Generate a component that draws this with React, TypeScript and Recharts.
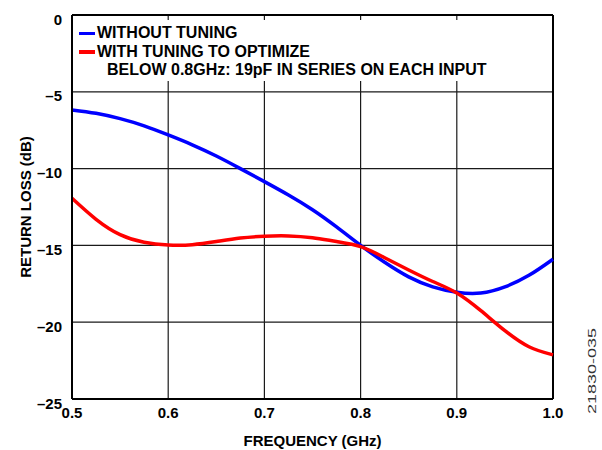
import React from 'react';
import {
  LineChart,
  Line,
  XAxis,
  YAxis,
  CartesianGrid,
  ReferenceLine,
  Legend,
  Label,
} from 'recharts';

// Frequency sample points (GHz)
const freq = [
  0.5, 0.525, 0.55, 0.575, 0.6, 0.625, 0.65, 0.675, 0.7, 0.725, 0.75,
  0.775, 0.8, 0.825, 0.85, 0.875, 0.9, 0.925, 0.95, 0.975, 1.0,
];

// Return loss (dB) without tuning
const withoutTuning = [
  -6.18, -6.4, -6.75, -7.22, -7.81, -8.45, -9.18, -10.0, -10.85, -11.72, -12.68,
  -13.8, -15.0, -16.1, -17.05, -17.7, -18.05, -18.1, -17.7, -16.95, -15.9,
];

// Return loss (dB) with tuning (19pF in series)
const withTuning = [
  -11.93, -13.3, -14.3, -14.8, -14.97, -14.95, -14.75, -14.52, -14.4, -14.38, -14.5,
  -14.75, -15.08, -15.8, -16.6, -17.35, -18.1, -19.25, -20.55, -21.6, -22.13,
];

const xTicks = [0.5, 0.6, 0.7, 0.8, 0.9, 1.0];
const yTicks = [-25, -20, -15, -10, -5, 0];
const legendOrder = ['without', 'with'];

const FONT = '"Liberation Sans", Arial, Helvetica, sans-serif';

const chartData = freq.map((f, i) => ({
  f,
  without: withoutTuning[i],
  with: withTuning[i],
}));

// y tick labels use a long dash for negatives
const YTick = ({ x, y, payload }: any) => {
  const v = payload.value;
  const label = v < 0 ? '\u2013' + Math.abs(v) : String(v);
  return (
    <text
      x={x}
      y={y}
      dy={4}
      textAnchor="end"
      dominantBaseline="central"
      fill="#000"
      fontSize={15}
      fontWeight={700}
      fontFamily={FONT}
    >
      {label}
    </text>
  );
};

const YTitle = () => (
  <text
    x={25}
    y={207}
    transform="rotate(-90, 25, 207)"
    textAnchor="middle"
    dominantBaseline="central"
    fill="#000"
    fontSize={15}
    fontWeight={700}
    fontFamily={FONT}
  >
    RETURN LOSS (dB)
  </text>
);

const ChartLegend = ({ payload }: any) => {
  if (!payload || !payload.length) return null;
  const items = [...payload].sort(
    (a: any, b: any) => legendOrder.indexOf(a.dataKey) - legendOrder.indexOf(b.dataKey)
  );
  const rowStyle: React.CSSProperties = {
    display: 'flex',
    alignItems: 'center',
    height: 18.5,
    lineHeight: '18.5px',
  };
  return (
    <div
      style={{
        background: '#fff',
        height: 61,
        paddingTop: 4,
        boxSizing: 'border-box',
        fontFamily: FONT,
        fontWeight: 700,
        fontSize: 16,
        color: '#000',
        whiteSpace: 'nowrap',
      }}
    >
      {items.map((p: any) => (
        <div key={p.value} style={rowStyle}>
          <div style={{ width: 16, height: 3.5, background: p.color, marginLeft: 4, marginRight: 2 }} />
          <span>{p.value}</span>
        </div>
      ))}
      <div style={{ ...rowStyle, paddingLeft: 32 }}>
        BELOW 0.8GHz: 19pF IN SERIES ON EACH INPUT
      </div>
    </div>
  );
};

export default function App() {
  return (
    <div
      style={{
        position: 'absolute',
        left: 0,
        top: 0,
        width: 602,
        height: 450,
        background: '#fff',
      }}
    >
      <LineChart
        width={602}
        height={450}
        data={chartData}
        margin={{ top: 15, right: 49, left: 0, bottom: 0 }}
      >
        <CartesianGrid stroke="#1a1a1a" strokeWidth={1.2} />
        <XAxis
          dataKey="f"
          type="number"
          domain={[0.5, 1.0]}
          ticks={xTicks}
          interval={0}
          tickFormatter={(v: number) => v.toFixed(1)}
          height={51}
          tickLine={false}
          axisLine={{ stroke: '#000', strokeWidth: 2 }}
          tick={{ fill: '#000', fontSize: 15, fontWeight: 700, fontFamily: FONT }}
        >
          <Label
            value="FREQUENCY (GHz)"
            position="insideBottom"
            offset={4}
            style={{ fill: '#000', fontSize: 15, fontWeight: 700, fontFamily: FONT }}
          />
        </XAxis>
        <YAxis
          type="number"
          domain={[-25, 0]}
          ticks={yTicks}
          interval={0}
          width={72}
          tickLine={false}
          tickMargin={4}
          axisLine={{ stroke: '#000', strokeWidth: 2 }}
          tick={<YTick />}
        >
          <Label content={<YTitle />} />
        </YAxis>
        <ReferenceLine y={0} stroke="#000" strokeWidth={2} />
        <ReferenceLine x={1.0} stroke="#000" strokeWidth={2} />
        <Legend
          layout="horizontal"
          verticalAlign="middle"
          align="center"
          wrapperStyle={{ top: 20, left: 75, width: 415, height: 61 }}
          content={<ChartLegend />}
        />
        <Line
          type="natural"
          dataKey="without"
          name="WITHOUT TUNING"
          stroke="#0000ff"
          strokeWidth={3.5}
          dot={false}
          activeDot={false}
          isAnimationActive={false}
        />
        <Line
          type="natural"
          dataKey="with"
          name="WITH TUNING TO OPTIMIZE"
          stroke="#ff0000"
          strokeWidth={3.5}
          dot={false}
          activeDot={false}
          isAnimationActive={false}
        />
      </LineChart>
      <svg
        width={602}
        height={450}
        style={{ position: 'absolute', left: 0, top: 0, pointerEvents: 'none' }}
      >
        <text
          transform="translate(596, 371) rotate(-90)"
          textAnchor="middle"
          textLength={86}
          lengthAdjust="spacingAndGlyphs"
          fontFamily={FONT}
          fontSize={11}
          fill="#333"
        >
          21830-035
        </text>
      </svg>
    </div>
  );
}
